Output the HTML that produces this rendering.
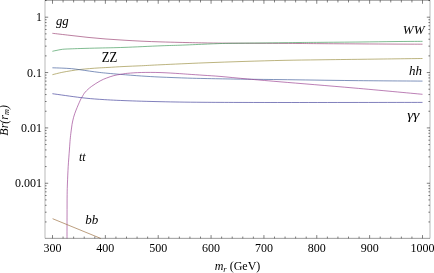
<!DOCTYPE html>
<html><head><meta charset="utf-8"><title>Br</title>
<style>
html,body{margin:0;padding:0;background:#fff;}
body{width:434px;height:273px;overflow:hidden;position:relative;font-family:"Liberation Serif",serif;}
svg{position:absolute;left:0;top:0;will-change:transform;}
text{font-family:"Liberation Serif",serif;fill:#000;}
.tk{font-size:12px;}
.lb{font-size:13px;}
.ax{font-size:12px;}
.it{font-style:italic;}
</style></head><body>
<svg width="434" height="273" viewBox="0 0 434 273">
<rect x="0" y="0" width="434" height="273" fill="#fff"/>

<g fill="none" stroke-width="0.66" stroke-linecap="butt" stroke-linejoin="round">
<path d="M52.40 33.30 C55.33 33.64 64.07 34.67 70.00 35.35 C75.93 36.03 82.00 36.79 88.00 37.40 C94.00 38.01 100.00 38.53 106.00 39.00 C112.00 39.47 118.00 39.83 124.00 40.20 C130.00 40.57 135.83 40.92 142.00 41.20 C148.17 41.48 154.67 41.70 161.00 41.90 C167.33 42.10 172.83 42.23 180.00 42.40 C187.17 42.57 198.17 42.79 204.00 42.90 C209.83 43.01 210.33 43.00 215.00 43.05 C219.67 43.10 224.50 43.16 232.00 43.20 C239.50 43.24 251.33 43.27 260.00 43.30 C268.67 43.33 277.33 43.37 284.00 43.40 C290.67 43.43 294.00 43.46 300.00 43.50 C306.00 43.54 310.00 43.58 320.00 43.65 C330.00 43.72 347.50 43.82 360.00 43.90 C372.50 43.98 384.58 44.05 395.00 44.10 C405.42 44.15 417.92 44.18 422.50 44.20" stroke="#993d70"/>
<path d="M52.40 51.30 C53.00 51.17 54.33 50.83 56.00 50.50 C57.67 50.17 60.07 49.57 62.40 49.30 C64.73 49.03 66.92 49.03 70.00 48.90 C73.08 48.77 75.90 48.65 80.90 48.50 C85.90 48.35 92.82 48.18 100.00 48.00 C107.18 47.82 113.83 47.77 124.00 47.40 C134.17 47.03 151.67 46.17 161.00 45.80 C170.33 45.43 172.83 45.47 180.00 45.20 C187.17 44.93 198.23 44.44 204.00 44.20 C209.77 43.96 211.00 43.88 214.60 43.75 C218.20 43.62 221.37 43.49 225.60 43.40 C229.83 43.31 234.27 43.27 240.00 43.20 C245.73 43.13 252.67 43.08 260.00 43.00 C267.33 42.92 277.33 42.78 284.00 42.70 C290.67 42.62 294.00 42.56 300.00 42.50 C306.00 42.44 310.00 42.43 320.00 42.35 C330.00 42.27 347.50 42.13 360.00 42.00 C372.50 41.87 384.58 41.66 395.00 41.55 C405.42 41.44 417.92 41.38 422.50 41.35" stroke="#3d9957"/>
<path d="M52.40 74.70 C53.97 74.32 58.62 73.07 61.80 72.40 C64.98 71.73 68.62 71.17 71.50 70.70 C74.38 70.23 76.10 69.95 79.10 69.60 C82.10 69.25 86.15 68.88 89.50 68.60 C92.85 68.32 96.12 68.09 99.20 67.90 C102.28 67.71 103.87 67.68 108.00 67.45 C112.13 67.22 118.42 66.78 124.00 66.50 C129.58 66.22 135.33 66.04 141.50 65.75 C147.67 65.46 150.58 65.23 161.00 64.75 C171.42 64.27 190.17 63.40 204.00 62.85 C217.83 62.30 230.67 61.87 244.00 61.45 C257.33 61.03 271.33 60.62 284.00 60.35 C296.67 60.08 306.67 59.98 320.00 59.80 C333.33 59.62 346.92 59.47 364.00 59.25 C381.08 59.03 412.75 58.62 422.50 58.50" stroke="#998c3d"/>
<path d="M52.40 67.80 C53.97 67.85 58.62 67.96 61.80 68.10 C64.98 68.24 68.62 68.40 71.50 68.65 C74.38 68.90 76.10 69.19 79.10 69.60 C82.10 70.01 86.15 70.63 89.50 71.10 C92.85 71.57 96.12 72.03 99.20 72.40 C102.28 72.77 104.42 72.97 108.00 73.30 C111.58 73.63 115.12 73.95 120.70 74.40 C126.28 74.85 134.95 75.56 141.50 76.00 C148.05 76.44 152.30 76.70 160.00 77.05 C167.70 77.40 180.37 77.86 187.70 78.10 C195.03 78.34 198.62 78.38 204.00 78.50 C209.38 78.62 213.33 78.68 220.00 78.80 C226.67 78.92 234.00 79.07 244.00 79.20 C254.00 79.33 261.67 79.37 280.00 79.60 C298.33 79.83 330.25 80.35 354.00 80.60 C377.75 80.85 411.08 81.02 422.50 81.10" stroke="#3d5a99"/>
<path d="M67.00 238.40 C67.01 234.50 67.02 222.32 67.05 215.00 C67.08 207.68 67.08 199.83 67.15 194.50 C67.22 189.17 67.28 187.67 67.45 183.00 C67.62 178.33 67.88 172.00 68.20 166.50 C68.53 161.00 69.07 154.53 69.40 150.00 C69.73 145.47 69.93 142.30 70.20 139.30 C70.47 136.30 70.70 134.45 71.00 132.00 C71.30 129.55 71.57 127.05 72.00 124.60 C72.43 122.15 72.92 119.73 73.60 117.30 C74.28 114.87 74.98 112.85 76.10 110.00 C77.22 107.15 79.27 102.43 80.30 100.20 C81.33 97.97 81.47 97.97 82.30 96.60 C83.13 95.23 83.78 93.68 85.30 92.00 C86.82 90.32 88.92 88.35 91.40 86.50 C93.88 84.65 97.70 82.30 100.20 80.90 C102.70 79.50 104.12 78.98 106.40 78.10 C108.68 77.22 111.52 76.23 113.90 75.60 C116.28 74.97 118.40 74.68 120.70 74.30 C123.00 73.92 124.23 73.60 127.70 73.30 C131.17 73.00 136.12 72.62 141.50 72.50 C146.88 72.38 153.70 72.37 160.00 72.55 C166.30 72.73 174.68 73.32 179.30 73.60 C183.92 73.88 183.58 73.92 187.70 74.20 C191.82 74.48 198.62 74.93 204.00 75.30 C209.38 75.67 212.72 75.78 220.00 76.40 C227.28 77.02 237.70 78.10 247.70 79.00 C257.70 79.90 262.28 80.30 280.00 81.80 C297.72 83.30 330.25 85.92 354.00 88.00 C377.75 90.08 411.08 93.25 422.50 94.30" stroke="#993d90"/>
<path d="M52.40 93.70 C57.15 94.35 73.08 96.67 80.90 97.60 C88.72 98.53 92.12 98.80 99.30 99.30 C106.48 99.80 113.72 100.20 124.00 100.60 C134.28 101.00 147.67 101.42 161.00 101.70 C174.33 101.98 183.50 102.17 204.00 102.30 C224.50 102.43 247.58 102.48 284.00 102.50 C320.42 102.52 399.42 102.42 422.50 102.40" stroke="#3f3d99"/>
<path d="M52.60 218.70 L100.70 238.40" stroke="#996d3d"/>
</g>
<path d="M45.00 0.22H430.00" stroke="#000" stroke-width="0.44" fill="none"/>
<path d="M45.00 238.35H430.00" stroke="#000" stroke-width="0.4" fill="none"/>
<path d="M45.00 0.25V238.35M430.00 0.25V238.35" stroke="#000" stroke-width="0.28" fill="none"/>
<path d="M52.50 238.35v-3.25M52.50 0.25v3.50M63.07 238.35v-1.80M63.07 0.25v2.20M73.64 238.35v-1.80M73.64 0.25v2.20M84.21 238.35v-1.80M84.21 0.25v2.20M94.79 238.35v-1.80M94.79 0.25v2.20M105.36 238.35v-3.25M105.36 0.25v3.50M115.93 238.35v-1.80M115.93 0.25v2.20M126.50 238.35v-1.80M126.50 0.25v2.20M137.07 238.35v-1.80M137.07 0.25v2.20M147.64 238.35v-1.80M147.64 0.25v2.20M158.21 238.35v-3.25M158.21 0.25v3.50M168.79 238.35v-1.80M168.79 0.25v2.20M179.36 238.35v-1.80M179.36 0.25v2.20M189.93 238.35v-1.80M189.93 0.25v2.20M200.50 238.35v-1.80M200.50 0.25v2.20M211.07 238.35v-3.25M211.07 0.25v3.50M221.64 238.35v-1.80M221.64 0.25v2.20M232.21 238.35v-1.80M232.21 0.25v2.20M242.79 238.35v-1.80M242.79 0.25v2.20M253.36 238.35v-1.80M253.36 0.25v2.20M263.93 238.35v-3.25M263.93 0.25v3.50M274.50 238.35v-1.80M274.50 0.25v2.20M285.07 238.35v-1.80M285.07 0.25v2.20M295.64 238.35v-1.80M295.64 0.25v2.20M306.21 238.35v-1.80M306.21 0.25v2.20M316.78 238.35v-3.25M316.78 0.25v3.50M327.36 238.35v-1.80M327.36 0.25v2.20M337.93 238.35v-1.80M337.93 0.25v2.20M348.50 238.35v-1.80M348.50 0.25v2.20M359.07 238.35v-1.80M359.07 0.25v2.20M369.64 238.35v-3.25M369.64 0.25v3.50M380.21 238.35v-1.80M380.21 0.25v2.20M390.78 238.35v-1.80M390.78 0.25v2.20M401.36 238.35v-1.80M401.36 0.25v2.20M411.93 238.35v-1.80M411.93 0.25v2.20M422.50 238.35v-3.25M422.50 0.25v3.50M45.00 17.20h3.20M430.00 17.20h-3.20M45.00 0.54h1.60M430.00 0.54h-1.60M45.00 72.55h3.20M430.00 72.55h-3.20M45.00 55.89h1.60M430.00 55.89h-1.60M45.00 46.14h1.60M430.00 46.14h-1.60M45.00 39.23h1.60M430.00 39.23h-1.60M45.00 33.86h1.60M430.00 33.86h-1.60M45.00 29.48h1.60M430.00 29.48h-1.60M45.00 25.77h1.60M430.00 25.77h-1.60M45.00 22.56h1.60M430.00 22.56h-1.60M45.00 19.73h1.60M430.00 19.73h-1.60M45.00 127.90h3.20M430.00 127.90h-3.20M45.00 111.24h1.60M430.00 111.24h-1.60M45.00 101.49h1.60M430.00 101.49h-1.60M45.00 94.58h1.60M430.00 94.58h-1.60M45.00 89.21h1.60M430.00 89.21h-1.60M45.00 84.83h1.60M430.00 84.83h-1.60M45.00 81.12h1.60M430.00 81.12h-1.60M45.00 77.91h1.60M430.00 77.91h-1.60M45.00 75.08h1.60M430.00 75.08h-1.60M45.00 183.25h3.20M430.00 183.25h-3.20M45.00 166.59h1.60M430.00 166.59h-1.60M45.00 156.84h1.60M430.00 156.84h-1.60M45.00 149.93h1.60M430.00 149.93h-1.60M45.00 144.56h1.60M430.00 144.56h-1.60M45.00 140.18h1.60M430.00 140.18h-1.60M45.00 136.47h1.60M430.00 136.47h-1.60M45.00 133.26h1.60M430.00 133.26h-1.60M45.00 130.43h1.60M430.00 130.43h-1.60M45.00 221.94h1.60M430.00 221.94h-1.60M45.00 212.19h1.60M430.00 212.19h-1.60M45.00 205.28h1.60M430.00 205.28h-1.60M45.00 199.91h1.60M430.00 199.91h-1.60M45.00 195.53h1.60M430.00 195.53h-1.60M45.00 191.82h1.60M430.00 191.82h-1.60M45.00 188.61h1.60M430.00 188.61h-1.60M45.00 185.78h1.60M430.00 185.78h-1.60" stroke="#000" stroke-width="0.5" fill="none"/>
<text class="tk" x="52.50" y="251.8" text-anchor="middle">300</text>
<text class="tk" x="105.36" y="251.8" text-anchor="middle">400</text>
<text class="tk" x="158.21" y="251.8" text-anchor="middle">500</text>
<text class="tk" x="211.07" y="251.8" text-anchor="middle">600</text>
<text class="tk" x="263.93" y="251.8" text-anchor="middle">700</text>
<text class="tk" x="316.78" y="251.8" text-anchor="middle">800</text>
<text class="tk" x="369.64" y="251.8" text-anchor="middle">900</text>
<text class="tk" x="422.50" y="251.8" text-anchor="middle">1000</text>
<text class="tk" x="42.0" y="21.20" text-anchor="end">1</text>
<text class="tk" x="42.0" y="76.55" text-anchor="end">0.1</text>
<text class="tk" x="42.0" y="131.90" text-anchor="end">0.01</text>
<text class="tk" x="42.0" y="187.25" text-anchor="end">0.001</text>
<text class="lb it" transform="translate(56,25.35) scale(0.98,0.92)">gg</text>
<text class="lb" transform="translate(101.8,61.7) scale(0.98,1.06)">ZZ</text>
<text class="lb it" x="402.8" y="33.6">WW</text>
<text class="lb it" x="409" y="74.5">hh</text>
<text class="lb it" transform="translate(407.2,118.7) scale(1.2,0.9)">γγ</text>
<text class="lb it" style="font-size:12px" x="78.9" y="161">tt</text>
<text class="lb it" x="85.2" y="224">bb</text>
<text class="ax" x="237.5" y="270.3" text-anchor="middle"><tspan class="it">m</tspan><tspan class="it" font-size="8.5" dy="2">r</tspan><tspan dy="-2"> (GeV)</tspan></text>
<text class="ax it" transform="translate(8.2,120.4) rotate(-90)" text-anchor="middle">Br(r<tspan font-size="8.2" dy="1">m</tspan><tspan dy="-1">)</tspan></text>
</svg></body></html>
